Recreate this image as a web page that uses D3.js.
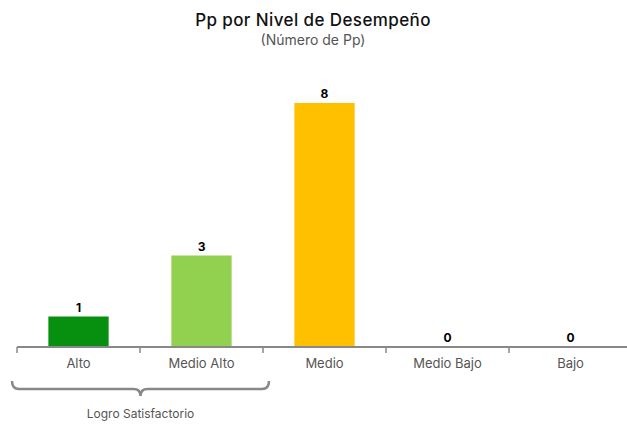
<!DOCTYPE html>
<html>
<head>
<meta charset="utf-8">
<script src="https://cdn.jsdelivr.net/npm/d3@7"></script>
<style>
  body { margin: 0; background: #fff; }
  svg { font-family: Inter, "Noto Sans", sans-serif; }
</style>
</head>
<body>
<svg id="chart" width="627" height="424"></svg>
<script>
// datos del grafico
var categories = ['Alto', 'Medio Alto', 'Medio', 'Medio Bajo', 'Bajo'];
var values = [1, 3, 8, 0, 0];
var colors = ['#078f0f', '#92d050', '#ffc000', '#ffc000', '#ffc000'];
var groupLabel = 'Logro Satisfactorio';
var groupCats = ['Alto', 'Medio Alto'];

var svg = d3.select('#chart');
var width = 627, height = 424;
var margin = {left: 17, top: 103, baseline: 347};

var x = d3.scaleBand()
  .domain(categories)
  .range([margin.left, margin.left + 123 * categories.length])
  .paddingInner(0.51)
  .paddingOuter(0.255);

var y = d3.scaleLinear()
  .domain([0, d3.max(values)])
  .range([margin.baseline, margin.top]);

// titulo
svg.append('text')
  .attr('x', 313).attr('y', 26)
  .attr('text-anchor', 'middle')
  .style('font-size', '17px').style('font-weight', 500)
  .style('letter-spacing', '0.4px')
  .attr('fill', '#111')
  .text('Pp por Nivel de Desempeño');

svg.append('text')
  .attr('x', 313).attr('y', 45)
  .attr('text-anchor', 'middle')
  .style('font-size', '14px')
  .attr('fill', '#555')
  .text('(Número de Pp)');

// barras
svg.append('g').selectAll('rect')
  .data(values)
  .enter().append('rect')
  .attr('x', function(d, i) { return x(categories[i]); })
  .attr('y', function(d) { return y(d); })
  .attr('width', x.bandwidth())
  .attr('height', function(d) { return y(0) - y(d); })
  .attr('fill', function(d, i) { return colors[i]; });

// etiquetas de valor
svg.append('g').selectAll('text')
  .data(values)
  .enter().append('text')
  .attr('x', function(d, i) { return x(categories[i]) + x.bandwidth() / 2; })
  .attr('y', function(d) { return y(d) - 5; })
  .attr('text-anchor', 'middle')
  .style('font-size', '12px').style('font-weight', 700)
  .attr('fill', '#000')
  .text(function(d) { return d; });

// eje x
var axis = svg.append('g')
  .attr('transform', 'translate(0,' + y(0) + ')');

axis.append('line')
  .attr('x1', margin.left).attr('x2', width)
  .attr('stroke', '#888').attr('stroke-width', 2);

axis.selectAll('.tick')
  .data(categories)
  .enter().append('line')
  .attr('class', 'tick')
  .attr('x1', function(d) { return x(d) - x.step() * x.paddingInner() / 2; })
  .attr('x2', function(d) { return x(d) - x.step() * x.paddingInner() / 2; })
  .attr('y1', 0).attr('y2', 6)
  .attr('stroke', '#888').attr('stroke-width', 1.5);

axis.selectAll('.lbl')
  .data(categories)
  .enter().append('text')
  .attr('class', 'lbl')
  .attr('x', function(d) { return x(d) + x.bandwidth() / 2; })
  .attr('y', 21)
  .attr('text-anchor', 'middle')
  .style('font-size', '13px')
  .attr('fill', '#555')
  .text(function(d) { return d; });

// llave del grupo
var gx0 = x(groupCats[0]) - x.step() * x.paddingInner() / 2 - 5;
var gx1 = x(groupCats[groupCats.length - 1]) + x.bandwidth() + x.step() * x.paddingInner() / 2 + 6;
var gm = (gx0 + gx1) / 2;
var by = y(0) + 42, r = 7;

svg.append('path')
  .attr('d', 'M' + gx0 + ',' + (by - r - 1) +
    ' Q' + gx0 + ',' + by + ' ' + (gx0 + r) + ',' + by +
    ' L' + (gm - r) + ',' + by +
    ' Q' + gm + ',' + by + ' ' + gm + ',' + (by + r) +
    ' Q' + gm + ',' + by + ' ' + (gm + r) + ',' + by +
    ' L' + (gx1 - r) + ',' + by +
    ' Q' + gx1 + ',' + by + ' ' + gx1 + ',' + (by - r - 1))
  .attr('fill', 'none')
  .attr('stroke', '#888').attr('stroke-width', 2.5);

svg.append('text')
  .attr('x', gm).attr('y', by + 29)
  .attr('text-anchor', 'middle')
  .style('font-size', '12px')
  .attr('fill', '#555')
  .text(groupLabel);
</script>
</body>
</html>
